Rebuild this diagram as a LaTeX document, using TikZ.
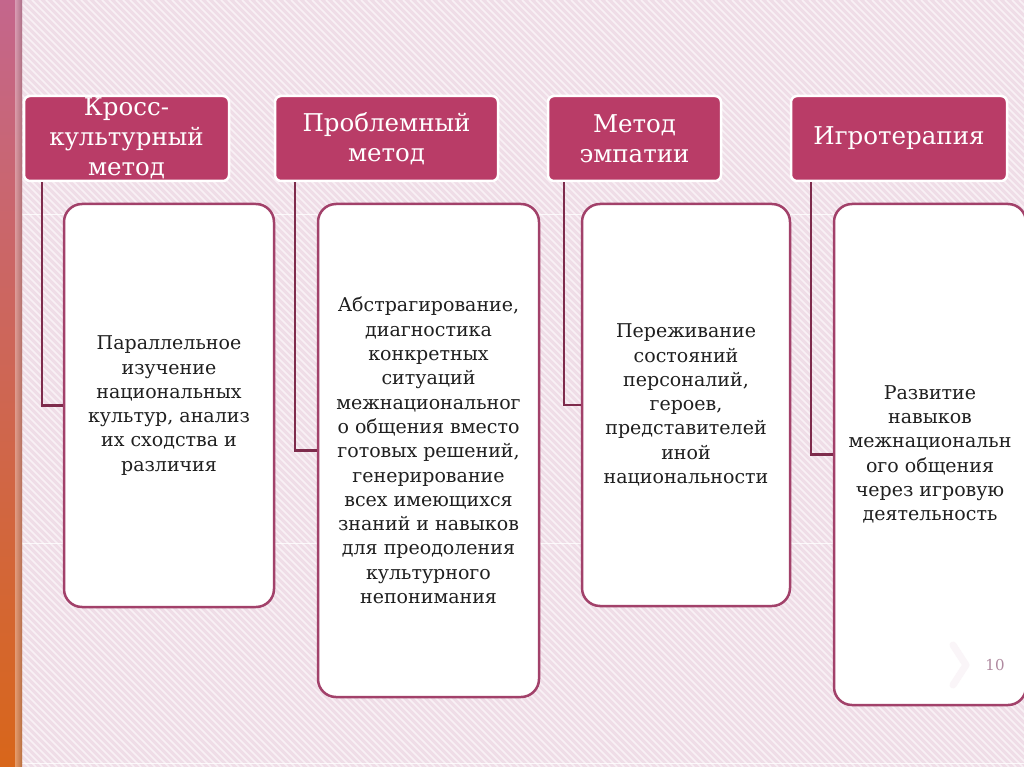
\documentclass[tikz,border=0pt]{standalone}
\usepackage{fontspec}
\setmainfont{DejaVu Serif}
\definecolor{bgc}{HTML}{EFDDE7}
\definecolor{headc}{HTML}{B93C67}
\definecolor{bodyc}{HTML}{A2416A}
\definecolor{connc}{HTML}{7E2B4C}
\definecolor{numc}{HTML}{B08AA0}
\definecolor{stripT}{HTML}{C4668C}
\definecolor{stripM}{HTML}{BE4250}
\definecolor{stripB}{HTML}{D8661A}
\tikzset{
  head/.style={draw=white, line width=2.5pt, fill=headc, rounded corners=6pt,
    text=white, align=center, inner sep=0pt, font=\fontsize{24.5}{30}\selectfont},
  body/.style={draw=bodyc, line width=2.5pt, fill=white, rounded corners=18pt,
    text=black!88, align=center, inner sep=0pt, font=\fontsize{19}{24.3}\selectfont},
  conn/.style={draw=connc, line width=2.5pt},
  hatch/.style={draw=white, line width=1.6pt, opacity=0.6}
}
\begin{document}
\begin{tikzpicture}[x=1pt,y=-1pt]
\useasboundingbox (0,0) rectangle (1024,767);
% background
\fill[bgc] (0,0) rectangle (1024,767);
\begin{scope}
\clip (22,0) rectangle (1024,767);
\foreach \i in {-780,-773,...,1030} \draw[hatch] (\i,0) -- (\i+767,767);
\end{scope}
\foreach \yy in {215,543,763} \draw[white, line width=1pt, opacity=0.8] (22,\yy) -- (1024,\yy);
% left strip
\shade[top color=stripT, middle color=stripM, bottom color=stripB] (0,0) rectangle (22,767);
\shade[left color=black!0, right color=black!50, opacity=0.35] (15,0) rectangle (22,767);
% headers
\node[head, minimum width=205pt, minimum height=85pt] (h1) at (126.5,138.5) {Кросс-\\культурный\\метод};
\node[head, minimum width=223pt, minimum height=85pt] (h2) at (386.5,138.5) {Проблемный\\метод};
\node[head, minimum width=173pt, minimum height=85pt] (h3) at (634.5,138.5) {Метод\\эмпатии};
\node[head, minimum width=216pt, minimum height=85pt] (h4) at (899,138.5) {Игротерапия};
% bodies
\node[body, minimum width=210pt, minimum height=403pt] (b1) at (169,405.5)
  {Параллельное\\изучение\\национальных\\культур, анализ\\их сходства и\\различия};
\node[body, minimum width=221pt, minimum height=493pt] (b2) at (428.5,450.5)
  {Абстрагирование,\\диагностика\\конкретных\\ситуаций\\межнациональног\\о общения вместо\\готовых решений,\\генерирование\\всех имеющихся\\знаний и навыков\\для преодоления\\культурного\\непонимания};
\node[body, minimum width=208pt, minimum height=402pt] (b3) at (686,405)
  {Переживание\\состояний\\персоналий,\\героев,\\представителей\\иной\\национальности};
\node[body, minimum width=192pt, minimum height=501pt] (b4) at (930,454.5)
  {Развитие\\навыков\\межнациональн\\ого общения\\через игровую\\деятельность};
% connectors
\draw[conn] ([xshift=19pt]h1.south west) |- (b1.west);
\draw[conn] ([xshift=21pt]h2.south west) |- (b2.west);
\draw[conn] ([xshift=17pt]h3.south west) |- (b3.west);
\draw[conn] ([xshift=21pt]h4.south west) |- (b4.west);
% page number
\draw[draw=bgc!30!white, line width=7pt, line cap=round, line join=round] (953,645) -- (966,665) -- (953,685);
\node[text=numc, font=\fontsize{15}{17}\selectfont] (pn) at (995,665) {10};
\end{tikzpicture}
\end{document}
